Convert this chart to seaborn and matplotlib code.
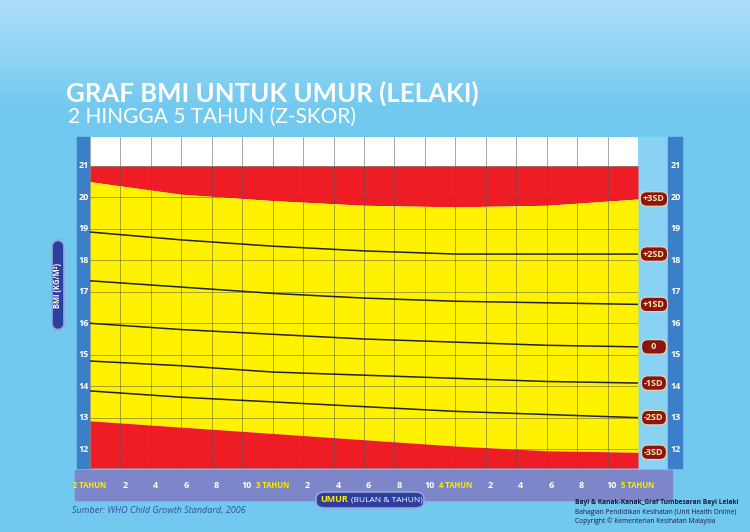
import numpy as np
import pandas as pd
import matplotlib
matplotlib.use("Agg")
import matplotlib.pyplot as plt
from matplotlib.patches import Rectangle, FancyBboxPatch
import matplotlib.transforms as mtrans
import seaborn as sns

months = [24, 30, 36, 42, 48, 54, 60]
sd_p3 = [20.5, 20.1, 19.9, 19.75, 19.7, 19.75, 19.95]
sd_p2 = [18.9, 18.65, 18.45, 18.3, 18.2, 18.2, 18.2]
sd_p1 = [17.35, 17.15, 16.95, 16.8, 16.7, 16.65, 16.6]
sd_0 = [16.0, 15.8, 15.65, 15.5, 15.4, 15.3, 15.25]
sd_m1 = [14.8, 14.65, 14.45, 14.35, 14.25, 14.15, 14.1]
sd_m2 = [13.85, 13.65, 13.5, 13.35, 13.2, 13.1, 13.0]
sd_m3 = [12.9, 12.7, 12.5, 12.3, 12.1, 11.95, 11.9]
sd_labels = ["+3SD", "+2SD", "+1SD", "0", "-1SD", "-2SD", "-3SD"]
y_ticks = [12, 13, 14, 15, 16, 17, 18, 19, 20, 21]
x_tick_months = list(range(24, 61, 2))
x_tick_labels = ["2 TAHUN", "2", "4", "6", "8", "10", "3 TAHUN", "2", "4", "6", "8", "10",
                 "4 TAHUN", "2", "4", "6", "8", "10", "5 TAHUN"]

series = [sd_p3, sd_p2, sd_p1, sd_0, sd_m1, sd_m2, sd_m3]
df = pd.DataFrame([(m, v, lab) for lab, s in zip(sd_labels, series) for m, v in zip(months, s)],
                  columns=["month", "bmi", "sd"])

sns.set_theme(style="white")
plt.rcParams['font.family'] = ['Open Sans', 'DejaVu Sans']
W, H = 750, 532
fig = plt.figure(figsize=(7.5, 5.32), dpi=100)

bg = fig.add_axes([0, 0, 1, 1])
grad = np.linspace(0, 1, 256).reshape(-1, 1)
top = np.array([0.68, 0.87, 0.97]); bot = np.array([0.45, 0.79, 0.94])
mix = np.clip(grad * 5, 0, 1)
img = (top[None, None, :] * (1 - mix[..., None]) + bot[None, None, :] * mix[..., None])
bg.imshow(img, aspect="auto", extent=[0, 1, 0, 1], origin="upper")
bg.set_xlim(0, 1); bg.set_ylim(0, 1); bg.axis("off")

def fx(px): return px / W
def fy(py): return 1 - py / H

bg.add_patch(Rectangle((fx(77), fy(468)), fx(13), fy(137) - fy(468), color="#3b7fc8", zorder=2))
bg.add_patch(Rectangle((fx(668), fy(468)), fx(14), fy(137) - fy(468), color="#3b7fc8", zorder=2))
bg.add_patch(Rectangle((fx(638), fy(468)), fx(30), fy(137) - fy(468), color="#8ad2f3", zorder=1.5))
bg.add_patch(Rectangle((fx(75), fy(500)), fx(597), fy(470) - fy(500), color="#7c86c9", zorder=2))
bg.add_patch(FancyBboxPatch((fx(316), fy(508)), fx(108), fy(492) - fy(508),
                            boxstyle="round,pad=0,rounding_size=0.012", fc="#2d3f9e",
                            ec="#9aa6d8", lw=1.2, zorder=3))
bg.add_patch(FancyBboxPatch((fx(52), fy(330)), fx(12), fy(240) - fy(330),
                            boxstyle="round,pad=0,rounding_size=0.012", fc="#2d3f9e",
                            ec="#9aa6d8", lw=1.2, zorder=3))

ax = fig.add_axes([fx(90), fy(468), fx(638) - fx(90), fy(137) - fy(468)])
ax.set_xlim(24, 60)
ax.set_ylim(11.4, 21.92)
ax.set_facecolor("white")
x = np.array(months)
ax.fill_between(x, sd_p3, 21, color="#ee1c25", lw=0, zorder=1)
ax.fill_between(x, sd_m3, sd_p3, color="#fff200", lw=0, zorder=1)
ax.fill_between(x, 11.4, sd_m3, color="#ee1c25", lw=0, zorder=1)
for m in x_tick_months:
    ax.axvline(m, color="#555555", lw=0.6, alpha=0.6, zorder=2)
for yv in y_ticks:
    ax.axhline(yv, color="#555555", lw=0.6, alpha=0.6, zorder=2)
inner = df[~df["sd"].isin(["+3SD", "-3SD"])]
sns.lineplot(data=inner, x="month", y="bmi", units="sd", estimator=None, color="#222222",
             lw=1.1, ax=ax, zorder=3)
ax.set_xticks([]); ax.set_yticks([])
ax.set_xlabel(""); ax.set_ylabel("")
for s in ax.spines.values():
    s.set_visible(False)

t = mtrans.blended_transform_factory(fig.transFigure, ax.transData)
for yv in y_ticks:
    fig.text(fx(83.5), yv, str(yv), transform=t, color="white", fontsize=6.5,
             fontweight="bold", ha="center", va="center", zorder=5)
    fig.text(fx(676), yv, str(yv), transform=t, color="white", fontsize=6.5,
             fontweight="bold", ha="center", va="center", zorder=5)

for lab, s in zip(sd_labels, series):
    ax.annotate(lab if lab != "0" else "   0   ", xy=(60, s[-1]), xytext=(11.5, 0),
                textcoords="offset points",
                ha="center", va="center", fontsize=6.5, fontweight="bold", color="#ffe9a0",
                annotation_clip=False, zorder=6,
                bbox=dict(boxstyle="round,pad=0.3,rounding_size=0.7", fc="#8b1515", ec="#f3d9a0", lw=0.8))

tb = mtrans.blended_transform_factory(ax.transData, fig.transFigure)
for m, lab in zip(x_tick_months, x_tick_labels):
    is_year = "TAHUN" in lab
    fig.text(m + (0.3 if not is_year else 0), fy(486), lab, transform=tb,
             color="#ffec00" if is_year else "white",
             fontsize=5.5 if is_year else 6.5, fontweight="bold",
             ha="center", va="center", zorder=5)

fig.text(fx(66), fy(93), "GRAF BMI UNTUK UMUR (LELAKI)", color="white", fontsize=18.5,
         fontweight="bold", ha="left", va="center", family=["Lato", "DejaVu Sans"])
fig.text(fx(68), fy(117), "2 HINGGA 5 TAHUN (Z-SKOR)", color="white", fontsize=15,
         ha="left", va="center", family=["Lato", "DejaVu Sans"])

fig.text(fx(58), fy(285), "BMI (KG/M²)", rotation=90, color="white", fontsize=5.5, fontweight="bold",
         ha="center", va="center", zorder=5)

fig.text(fx(320), fy(500), "UMUR", color="#ffec00", fontsize=6.5, fontweight="bold", ha="left",
         va="center", zorder=5)
fig.text(fx(351), fy(500), "(BULAN & TAHUN)", color="white", fontsize=6, ha="left",
         va="center", zorder=5)

fig.text(fx(72), fy(511), "Sumber: WHO Child Growth Standard, 2006", color="#3050a0",
         fontsize=6.5, style="italic", ha="left", va="center")
fig.text(fx(575), fy(503), "Bayi & Kanak-Kanak_Graf Tumbesaran Bayi Lelaki", color="#1a1a40",
         fontsize=4.8, fontweight="bold", ha="left", va="center")
fig.text(fx(575), fy(512), "Bahagian Pendidikan Kesihatan (Unit Health Online)", color="#1a1a40",
         fontsize=4.8, ha="left", va="center")
fig.text(fx(575), fy(521), "Copyright © Kementerian Kesihatan Malaysia", color="#1a1a40",
         fontsize=4.8, ha="left", va="center")

fig.savefig("out.png", dpi=100)
